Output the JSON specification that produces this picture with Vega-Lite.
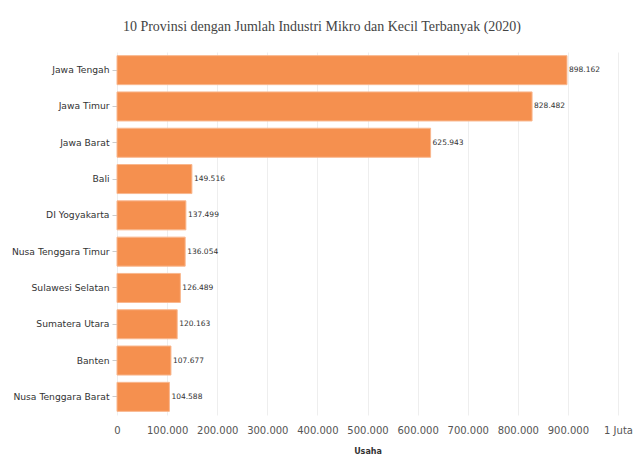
{
  "$schema": "https://vega.github.io/schema/vega-lite/v6.json",
  "width": 501,
  "height": 363,
  "autosize": {"type": "none"},
  "padding": {"left": 117, "top": 52, "right": 15, "bottom": 42},
  "background": "white",
  "config": {
    "locale": {"number": {"decimal": ",", "thousands": ".", "grouping": [3], "currency": ["Rp", ""]}},
    "view": {"stroke": null}
  },
  "title": {
    "text": "10 Provinsi dengan Jumlah Industri Mikro dan Kecil Terbanyak (2020)",
    "font": "Liberation Serif",
    "fontSize": 14,
    "fontWeight": "normal",
    "color": "#444",
    "anchor": "middle",
    "frame": "bounds",
    "offset": 18
  },
  "data": {
    "values": [
      {"provinsi": "Jawa Tengah", "usaha": 898162},
      {"provinsi": "Jawa Timur", "usaha": 828482},
      {"provinsi": "Jawa Barat", "usaha": 625943},
      {"provinsi": "Bali", "usaha": 149516},
      {"provinsi": "DI Yogyakarta", "usaha": 137499},
      {"provinsi": "Nusa Tenggara Timur", "usaha": 136054},
      {"provinsi": "Sulawesi Selatan", "usaha": 126489},
      {"provinsi": "Sumatera Utara", "usaha": 120163},
      {"provinsi": "Banten", "usaha": 107677},
      {"provinsi": "Nusa Tenggara Barat", "usaha": 104588}
    ]
  },
  "encoding": {
    "y": {
      "field": "provinsi",
      "type": "nominal",
      "sort": null,
      "scale": {"paddingInner": 0.2, "paddingOuter": 0.1},
      "axis": {
        "title": null,
        "labelFont": "DejaVu Sans",
        "labelFontSize": 9.2,
        "labelColor": "#333",
        "tickColor": "#ccc",
        "tickSize": 5,
        "labelPadding": 3,
        "domain": false,
        "grid": false
      }
    },
    "x": {
      "field": "usaha",
      "type": "quantitative",
      "scale": {"domain": [0, 1000000], "nice": false},
      "axis": {
        "title": "Usaha",
        "titleFont": "DejaVu Sans",
        "titleFontSize": 8,
        "titleFontWeight": "bold",
        "titleColor": "#333",
        "titlePadding": 12,
        "values": [0, 100000, 200000, 300000, 400000, 500000, 600000, 700000, 800000, 900000, 1000000],
        "labelExpr": "datum.value == 1000000 ? '1 Juta' : format(datum.value, ',')",
        "labelFont": "DejaVu Sans",
        "labelFontSize": 10,
        "labelColor": "#555",
        "labelPadding": 10,
        "labelFlush": false,
        "domain": false,
        "ticks": false,
        "grid": true,
        "gridColor": "#eeeeee"
      }
    }
  },
  "layer": [
    {
      "mark": {"type": "bar", "color": "#F5904F", "stroke": "#F9B78E", "strokeWidth": 1}
    },
    {
      "mark": {"type": "text", "align": "left", "dx": 2, "font": "DejaVu Sans", "fontSize": 7.5, "color": "#333"},
      "encoding": {"text": {"field": "usaha", "type": "quantitative", "format": ","}}
    }
  ]
}
